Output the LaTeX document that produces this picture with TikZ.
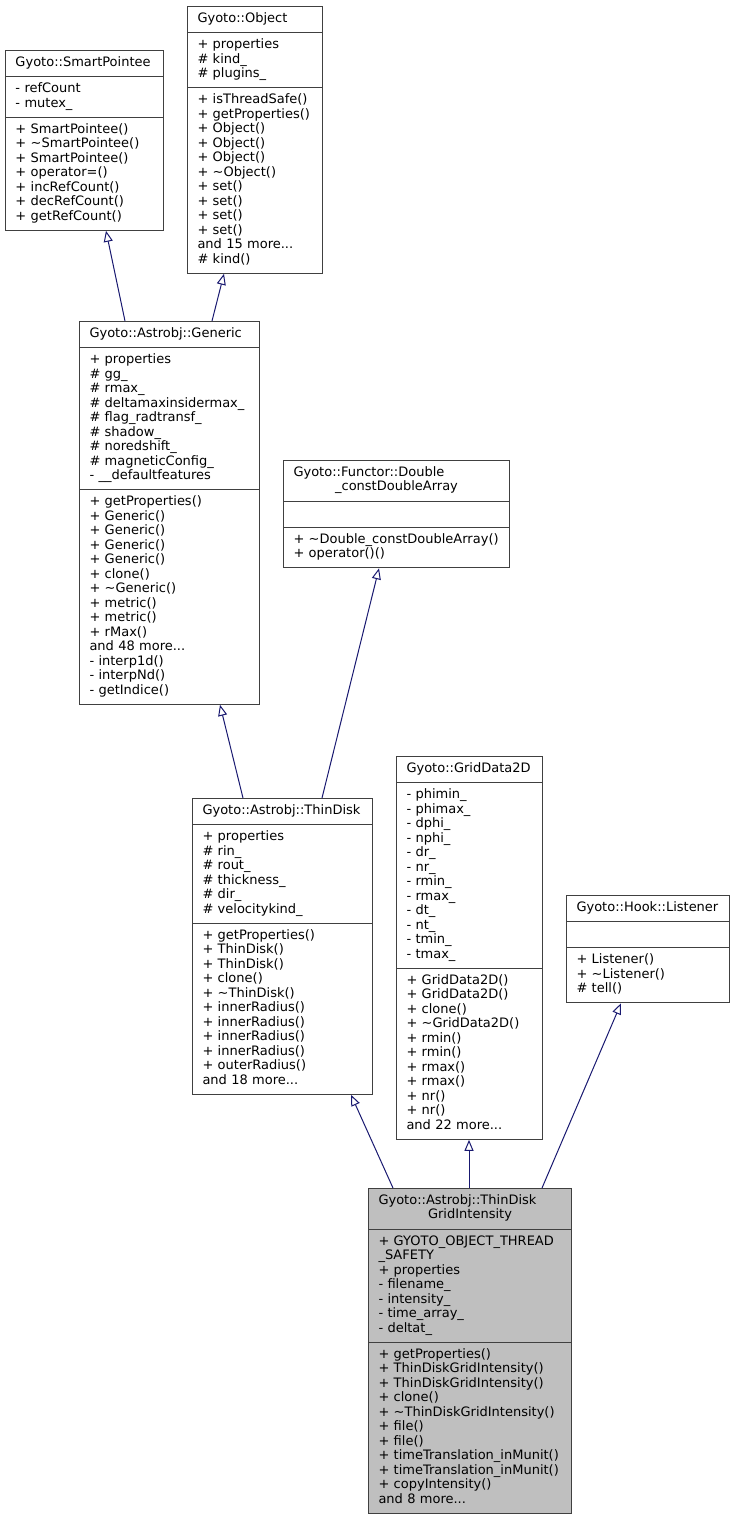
\documentclass[tikz,border=0pt]{standalone}
\usepackage{fontspec}
\setmainfont{DejaVu Sans}
\usetikzlibrary{shapes.multipart,arrows.meta}
\definecolor{edgeblue}{HTML}{191970}
\definecolor{boxline}{HTML}{404040}
\definecolor{boxfill}{HTML}{BFBFBF}
\newcommand\dxfont{\fontsize{13}{14.5}\selectfont}
\newcommand\ttl[1]{\centering\strut#1\strut}
\newcommand\sect[1]{\raggedright\strut#1\strut}
\setlength{\parindent}{0pt}
\begin{document}
\begin{tikzpicture}[x=1pt,y=-1pt,
	cls/.style={rectangle split, rectangle split parts=3, draw=boxline, line width=1pt,
		inner xsep=10pt, inner ysep=5.3pt, anchor=north west, font=\dxfont},
	inh/.style={draw=edgeblue, line width=1pt, -{Triangle[open,length=11pt,width=9pt]}}]
	\useasboundingbox (0,0) rectangle (735,1520);
		\node[cls, text width=138pt] (SP) at (5,50) {\ttl{Gyoto::SmartPointee}
			\nodepart{two}\sect{-~refCount\\ -~mutex\_}
			\nodepart{three}\sect{+~SmartPointee()\\ +~\textasciitilde SmartPointee()\\ +~SmartPointee()\\ +~operator=()\\ +~incRefCount()\\ +~decRefCount()\\ +~getRefCount()}};
		\node[cls, text width=115pt] (OB) at (187,6) {\ttl{Gyoto::Object}
			\nodepart{two}\sect{+~properties\\ \#~kind\_\\ \#~plugins\_}
			\nodepart{three}\sect{+~isThreadSafe()\\ +~getProperties()\\ +~Object()\\ +~Object()\\ +~Object()\\ +~\textasciitilde Object()\\ +~set()\\ +~set()\\ +~set()\\ +~set()\\ and~15~more...\\ \#~kind()}};
	\node[cls, text width=160pt] (GE) at (79,321) {\ttl{Gyoto::Astrobj::Generic}
		\nodepart{two}\sect{+~properties\\ \#~gg\_\\ \#~rmax\_\\ \#~deltamaxinsidermax\_\\ \#~flag\_radtransf\_\\ \#~shadow\_\\ \#~noredshift\_\\ \#~magneticConfig\_\\ -~\_\_defaultfeatures}
		\nodepart{three}\sect{+~getProperties()\\ +~Generic()\\ +~Generic()\\ +~Generic()\\ +~Generic()\\ +~clone()\\ +~\textasciitilde Generic()\\ +~metric()\\ +~metric()\\ +~rMax()\\ and~48~more...\\ -~interp1d()\\ -~interpNd()\\ -~getIndice()}};
	\node[cls, text width=206pt] (FU) at (283,460) {\sect{Gyoto::Functor::Double\\ \makebox[\linewidth]{\_constDoubleArray}}
		\nodepart{two}\sect{}
		\nodepart{three}\sect{+~\textasciitilde Double\_constDoubleArray()\\ +~operator()()}};
			\node[cls, text width=160pt] (TD) at (192,798) {\ttl{Gyoto::Astrobj::ThinDisk}
				\nodepart{two}\sect{+~properties\\ \#~rin\_\\ \#~rout\_\\ \#~thickness\_\\ \#~dir\_\\ \#~velocitykind\_}
				\nodepart{three}\sect{+~getProperties()\\ +~ThinDisk()\\ +~ThinDisk()\\ +~clone()\\ +~\textasciitilde ThinDisk()\\ +~innerRadius()\\ +~innerRadius()\\ +~innerRadius()\\ +~innerRadius()\\ +~outerRadius()\\ and~18~more...}};
			\node[cls, text width=126pt] (GD) at (396,756) {\ttl{Gyoto::GridData2D}
				\nodepart{two}\sect{-~phimin\_\\ -~phimax\_\\ -~dphi\_\\ -~nphi\_\\ -~dr\_\\ -~nr\_\\ -~rmin\_\\ -~rmax\_\\ -~dt\_\\ -~nt\_\\ -~tmin\_\\ -~tmax\_}
				\nodepart{three}\sect{+~GridData2D()\\ +~GridData2D()\\ +~clone()\\ +~\textasciitilde GridData2D()\\ +~rmin()\\ +~rmin()\\ +~rmax()\\ +~rmax()\\ +~nr()\\ +~nr()\\ and~22~more...}};
			\node[cls, text width=143pt] (HL) at (566,895) {\ttl{Gyoto::Hook::Listener}
				\nodepart{two}\sect{}
				\nodepart{three}\sect{+~Listener()\\ +~\textasciitilde Listener()\\ \#~tell()}};
		\node[cls, fill=boxfill, text width=183pt] (TG) at (368,1188) {\sect{Gyoto::Astrobj::ThinDisk\\ \makebox[\linewidth]{GridIntensity}}
			\nodepart{two}\sect{+~GYOTO\_OBJECT\_THREAD\\ \_SAFETY\\ +~properties\\ -~filename\_\\ -~intensity\_\\ -~time\_array\_\\ -~deltat\_}
			\nodepart{three}\sect{+~getProperties()\\ +~ThinDiskGridIntensity()\\ +~ThinDiskGridIntensity()\\ +~clone()\\ +~\textasciitilde ThinDiskGridIntensity()\\ +~file()\\ +~file()\\ +~timeTranslation\_inMunit()\\ +~timeTranslation\_inMunit()\\ +~copyIntensity()\\ and~8~more...}};
	\draw[inh] ([xshift=46pt]GE.north west) -- ([xshift=101pt]SP.south west);
	\draw[inh] ([xshift=133pt]GE.north west) -- ([xshift=37pt]OB.south west);
	\draw[inh] ([xshift=51pt]TD.north west) -- ([xshift=141pt]GE.south west);
	\draw[inh] ([xshift=130pt]TD.north west) -- ([xshift=96pt]FU.south west);
	\draw[inh] ([xshift=25pt]TG.north west) -- ([xshift=159pt]TD.south west);
	\draw[inh] ([xshift=101pt]TG.north west) -- ([xshift=73pt]GD.south west);
	\draw[inh] ([xshift=174pt]TG.north west) -- ([xshift=55pt]HL.south west);
\end{tikzpicture}
\end{document}
